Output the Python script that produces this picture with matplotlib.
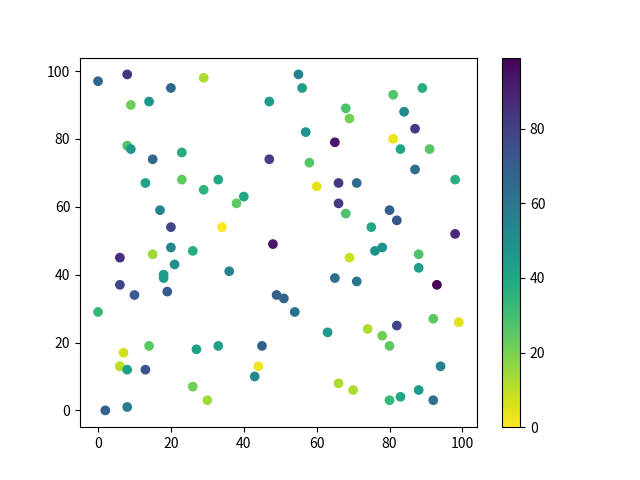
import matplotlib
matplotlib.use("Agg")
import matplotlib.pyplot as plt

plt.rcParams['font.family'] = ['Noto Sans CJK SC', 'DejaVu Sans']
plt.rcParams['axes.unicode_minus'] = False

x = [0, 8, 29, 20, 9, 14, 8, 9, 15, 23, 13, 23, 29, 33, 17, 20,
     55, 56, 47, 68, 69, 57, 65, 47, 58, 60, 66, 40, 38, 66, 68, 34, 48,
     89, 81, 84, 87, 81, 83, 91, 87, 98, 71, 80, 82, 75, 98,
     20, 26, 6, 15, 21, 18, 18, 6, 10, 19, 0, 14, 27, 33, 7, 6, 6, 8, 13, 26, 30, 2, 8,
     36, 65, 49, 51, 54, 63, 45, 44, 43, 66,
     76, 78, 69, 88, 88, 71, 93, 82, 92, 99, 74, 78, 80, 94, 70, 88, 83, 80, 92]
y = [97, 99, 98, 95, 90, 91, 78, 77, 74, 76, 67, 68, 65, 68, 59, 54,
     99, 95, 91, 89, 86, 82, 79, 74, 73, 66, 67, 63, 61, 61, 58, 54, 49,
     95, 93, 88, 83, 80, 77, 77, 71, 68, 67, 59, 56, 54, 52,
     48, 47, 45, 46, 43, 40, 39, 37, 34, 35, 29, 19, 18, 19, 17, 13, 13, 12, 12, 7, 3, 0, 1,
     41, 39, 34, 33, 29, 23, 19, 13, 10, 8,
     47, 48, 45, 46, 42, 38, 37, 25, 27, 26, 24, 22, 19, 13, 6, 6, 4, 3, 3]
c = [67, 84, 12, 66, 22, 47, 28, 46, 66, 38, 42, 24, 35, 40, 56, 78,
     56, 44, 45, 28, 21, 48, 93, 80, 27, 4, 82, 41, 25, 82, 28, 0, 93,
     38, 27, 52, 83, 3, 40, 26, 64, 37, 64, 70, 72, 39, 88,
     54, 38, 86, 14, 50, 46, 45, 79, 71, 71, 33, 25, 43, 43, 7, 11, 10, 44, 73, 22, 14, 69, 58,
     56, 64, 69, 67, 63, 46, 69, 2, 53, 12,
     49, 49, 8, 28, 43, 61, 99, 78, 25, 5, 12, 22, 25, 55, 12, 45, 40, 33, 62]

fig, ax = plt.subplots(figsize=(6.4, 4.8), dpi=100)
sc = ax.scatter(x, y, c=c, cmap='viridis_r')
fig.colorbar(sc, ax=ax)
fig.savefig('out.png')
